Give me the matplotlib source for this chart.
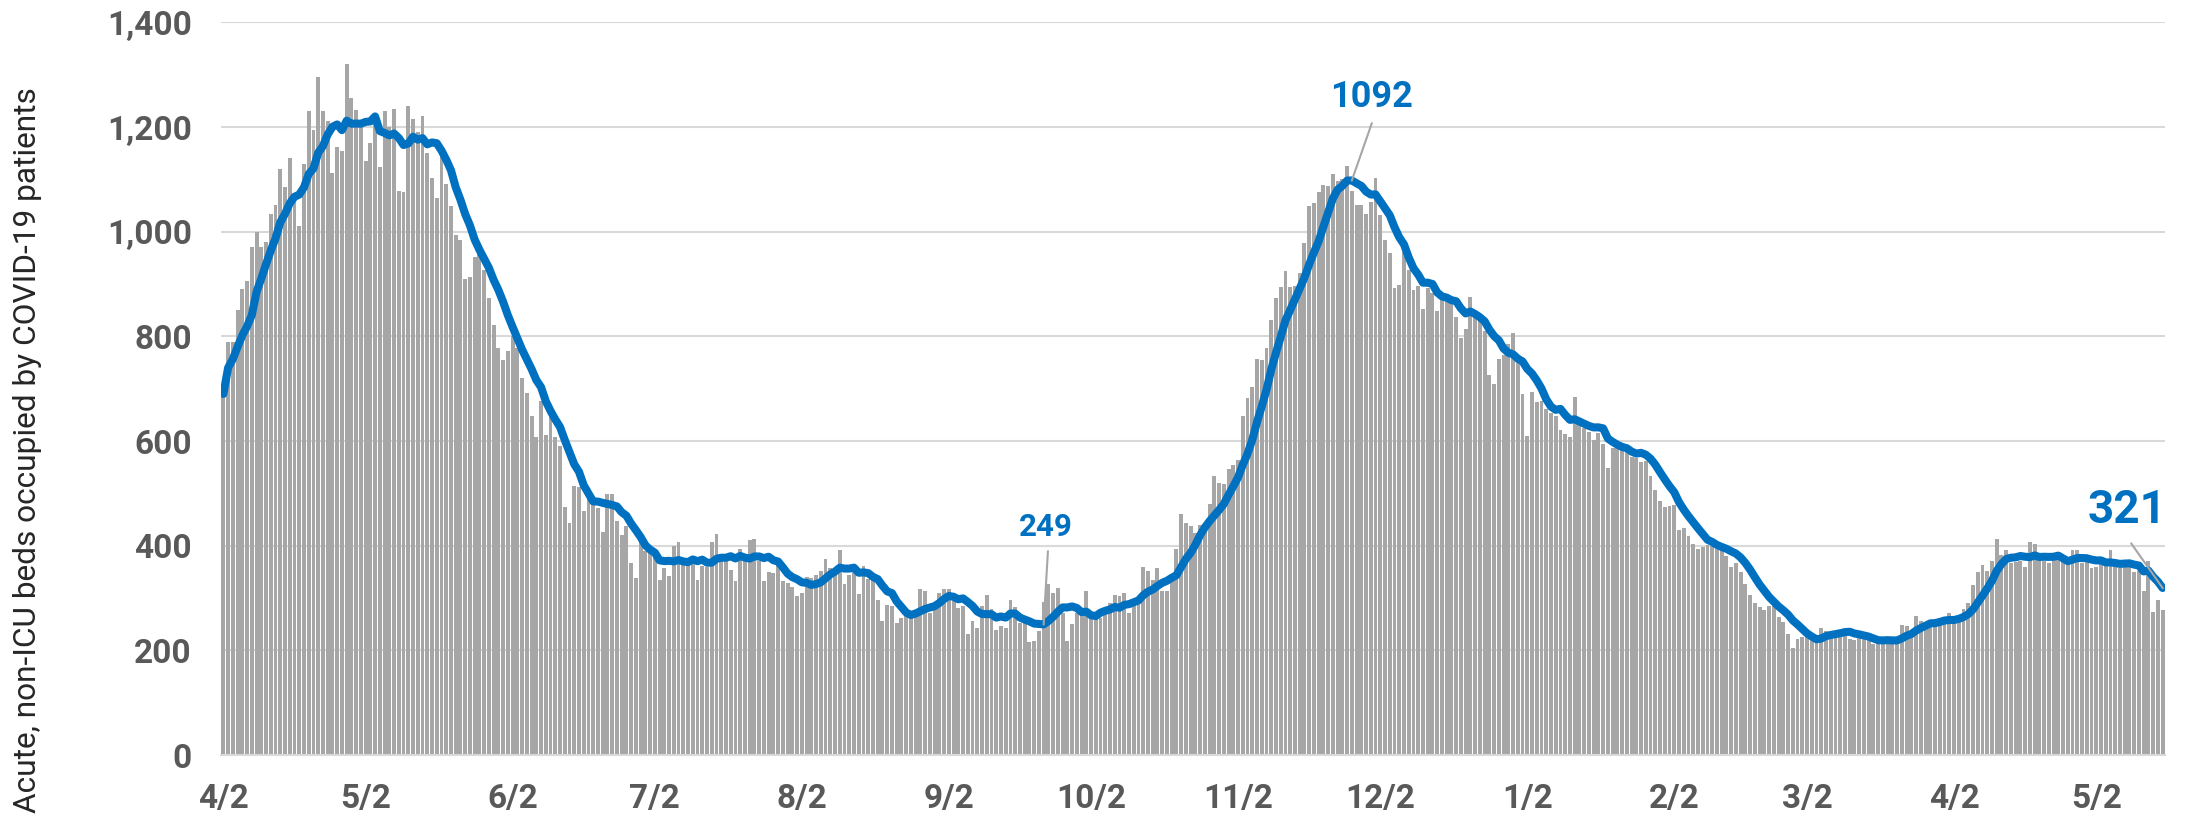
"""Daily acute (non-ICU) COVID-19 bed occupancy with 7-day average."""

import matplotlib
matplotlib.use("Agg")
import matplotlib.pyplot as plt
import numpy as np
import pandas as pd

start_date = "2020-04-02"

# daily occupied beds, 4/2/2020 .. 5/16/2021
beds = [
    690, 790, 790, 850, 890, 905, 970, 1000, 970, 980,
    1033, 1052, 1120, 1085, 1140, 1057, 1010, 1130, 1230, 1194,
    1295, 1230, 1212, 1112, 1162, 1154, 1320, 1255, 1232, 1210,
    1136, 1169, 1220, 1124, 1230, 1200, 1234, 1077, 1075, 1240,
    1215, 1190, 1221, 1151, 1102, 1065, 1142, 1092, 1049, 994,
    984, 910, 914, 951, 957, 927, 874, 822, 777, 754,
    772, 800, 777, 721, 692, 647, 607, 677, 612, 647,
    607, 591, 474, 444, 514, 512, 467, 497, 484, 472,
    427, 499, 499, 447, 420, 437, 367, 339, 407, 389,
    389, 379, 334, 357, 342, 400, 407, 370, 370, 370,
    334, 362, 360, 407, 422, 384, 370, 354, 332, 394,
    384, 410, 412, 370, 332, 350, 347, 367, 332, 329,
    322, 304, 309, 340, 339, 344, 352, 375, 357, 347,
    392, 327, 344, 364, 307, 362, 337, 342, 297, 257,
    287, 284, 252, 262, 267, 264, 277, 317, 314, 272,
    280, 310, 317, 317, 307, 280, 284, 232, 257, 242,
    284, 305, 279, 239, 247, 242, 297, 283, 252, 252,
    215, 217, 237, 292, 327, 309, 320, 272, 217, 250,
    272, 272, 314, 272, 262, 262, 275, 290, 305, 304,
    310, 272, 287, 300, 359, 352, 334, 357, 314, 314,
    340, 394, 460, 444, 437, 425, 440, 444, 479, 534,
    519, 517, 547, 554, 564, 647, 682, 704, 757, 755,
    777, 832, 874, 894, 925, 895, 897, 922, 979, 1050,
    1054, 1075, 1090, 1087, 1110, 1097, 1100, 1125, 1077, 1052,
    1052, 1034, 1057, 1102, 1032, 984, 959, 892, 899, 962,
    927, 889, 897, 852, 892, 882, 849, 874, 872, 864,
    837, 797, 814, 875, 840, 829, 810, 727, 709, 757,
    765, 785, 807, 752, 690, 609, 694, 674, 677, 662,
    654, 647, 622, 614, 607, 685, 632, 625, 617, 602,
    615, 594, 549, 587, 587, 587, 585, 570, 567, 559,
    562, 534, 507, 485, 474, 475, 478, 430, 434, 419,
    404, 394, 397, 402, 400, 394, 392, 380, 360, 367,
    349, 327, 305, 290, 282, 277, 285, 284, 264, 254,
    232, 205, 222, 225, 225, 222, 217, 242, 237, 237,
    237, 237, 237, 222, 219, 225, 222, 222, 212, 214,
    219, 222, 222, 222, 249, 247, 237, 265, 257, 252,
    254, 252, 262, 257, 272, 257, 267, 279, 290, 325,
    349, 364, 352, 370, 412, 382, 392, 367, 369, 370,
    360, 407, 404, 372, 370, 367, 372, 375, 370, 367,
    392, 392, 367, 369, 357, 359, 367, 365, 392, 359,
    357, 362, 362, 350, 352, 314, 370, 274, 297, 277,
]

# callouts on the average line (text, text position x/y)
callout_text = ["249", "1092", "321"]
callout_xy = [(173.5, 436), (242.2, 1258), (401.6, 469)]
callout_size = [22.5, 26, 33]

GRAY = "#A6A6A6"
BLUE = "#0070C0"
TEXT = "#595959"

dates = pd.date_range(start_date, periods=len(beds), freq="D")
df = pd.DataFrame({"date": dates, "beds": beds})
df["avg"] = df["beds"].rolling(7, min_periods=1).mean()
x = np.arange(len(df))

fig = plt.figure(figsize=(21.85, 8.18), dpi=100)
ax = fig.add_axes([221 / 2185, 1 - 755 / 818, (2165 - 221) / 2185, (755 - 22.4) / 818])

ax.bar(x, df["beds"], width=0.82, color=GRAY, zorder=2)
ax.plot(x, df["avg"], color=BLUE, lw=5.8, solid_capstyle="round",
        solid_joinstyle="round", zorder=3)

ax.set_xlim(-0.5, len(df) - 0.5)
ax.set_ylim(0, 1400)
ax.set_yticks(range(0, 1401, 200))
ax.yaxis.set_major_formatter(matplotlib.ticker.FuncFormatter(lambda v, p: f"{int(v):,}"))
ax.grid(axis="y", color="#D9D9D9", lw=1.5, zorder=0)
ax.set_axisbelow(True)

tick_pos = x[df["date"].dt.day == 2]
ax.set_xticks(tick_pos)
ax.set_xticklabels([f"{d.month}/{d.day}" for d in df["date"][tick_pos]])

for side in ["top", "right", "left"]:
    ax.spines[side].set_visible(False)
ax.spines["bottom"].set_color("#D9D9D9")
ax.spines["bottom"].set_linewidth(1.5)
ax.tick_params(length=0, labelsize=24, labelcolor=TEXT)
ax.tick_params(axis="x", pad=20)
ax.tick_params(axis="y", pad=21)
for lab in ax.get_xticklabels() + ax.get_yticklabels():
    lab.set_fontfamily("Roboto")
    lab.set_fontweight("bold")

# callouts with thin leader lines to the average line
avg = df["avg"].to_numpy()
lo = int(np.argmin(avg[150:200])) + 150
hi = int(np.argmax(avg[200:300])) + 200
targets = [lo, hi, len(avg) - 1]
leader_start = [(173.9, 389), (242.2, 1207), (402.4, 404)]
for txt, (tx, ty), fs, t, (sx, sy) in zip(callout_text, callout_xy, callout_size,
                                          targets, leader_start):
    ax.text(tx, ty, txt, color=BLUE, fontsize=fs, fontweight="bold",
            family="Roboto", ha="center", va="center", zorder=5)
    ax.plot([sx, t], [sy, avg[t]], color=GRAY, lw=1.5, zorder=4)

fig.text(28 / 2185, 1 - 450 / 818, "Acute, non-ICU beds occupied by COVID-19 patients",
         rotation=90, ha="center", va="center", fontsize=22.8, family="Roboto",
         color="#262626")

fig.savefig("out.png", dpi=100)
